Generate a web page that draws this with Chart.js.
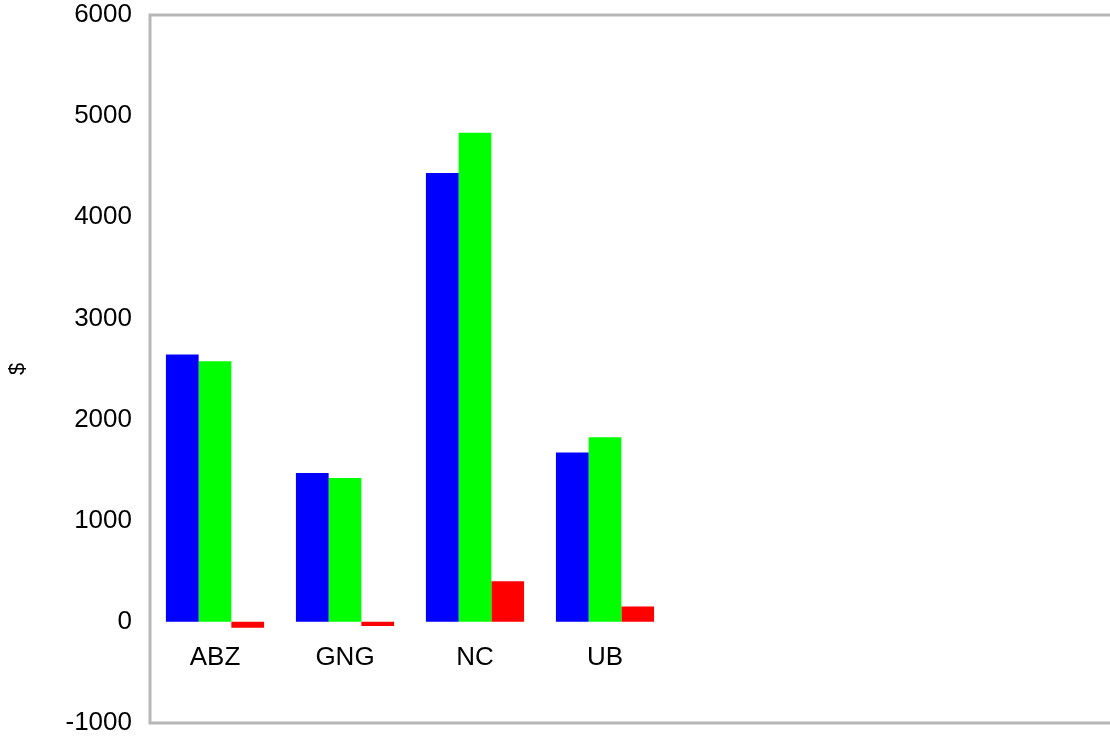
<!DOCTYPE html>
<html>
<head>
<meta charset="utf-8">
<script src="https://cdn.jsdelivr.net/npm/chart.js@4/dist/chart.umd.min.js"></script>
<style>
	html, body { margin: 0; padding: 0; background: #fff; overflow: hidden; }
	#wrap { width: 1110px; height: 740px; overflow: hidden; }
</style>
</head>
<body>
<div id="wrap"><canvas id="myChart" width="1200" height="740"></canvas></div>
<script>
const categories = ["ABZ", "GNG", "NC", "UB"];
const blueValues = [2643, 1472, 4439, 1675];
const greenValues = [2576, 1422, 4837, 1824];
const redValues = [-59, -40, 401, 153];
const yTicks = [-1000, 0, 1000, 2000, 3000, 4000, 5000, 6000];
const yTitle = "$";

// the plot runs past the right edge of the picture, so pad with empty slots
const emptySlots = 4;

const frameColor = "#b7b7b7";
const fontFamily = "'Liberation Sans', Arial, sans-serif";

const framePlugin = {
	id: "frame",
	afterDraw(chart) {
		const { ctx, chartArea } = chart;
		ctx.save();
		ctx.strokeStyle = frameColor;
		ctx.lineWidth = 3;
		ctx.strokeRect(chartArea.left, chartArea.top, chartArea.right - chartArea.left, chartArea.bottom - chartArea.top);
		ctx.restore();
	},
};

function initChart() {
	const ctx = document.getElementById("myChart");
	const labels = categories.concat(new Array(emptySlots).fill(""));

	return new Chart(ctx, {
		type: "bar",
		data: {
			labels: labels,
			datasets: [
				{ label: "blue", data: blueValues, backgroundColor: "#0000ff", borderWidth: 0 },
				{ label: "green", data: greenValues, backgroundColor: "#00ff00", borderWidth: 0 },
				{ label: "red", data: redValues, backgroundColor: "#ff0000", borderWidth: 0 },
			],
		},
		options: {
			responsive: false,
			animation: false,
			layout: { padding: { top: 15, bottom: 17, right: 10, left: 0 } },
			datasets: {
				bar: { barPercentage: 1, categoryPercentage: 0.755 },
			},
			plugins: {
				legend: { display: false },
				tooltip: { enabled: false },
			},
			scales: {
				x: {
					position: { y: 0 },
					afterFit: (scale) => {
						scale.height = 0;
						scale.paddingLeft = 0;
						scale.paddingRight = 0;
					},
					grid: { display: false, drawTicks: false },
					border: { display: false },
					ticks: {
						color: "#000",
						padding: 20,
						maxRotation: 0,
						autoSkip: false,
						font: { family: fontFamily, size: 26 },
					},
				},
				y: {
					min: -1000,
					max: 6000,
					afterBuildTicks: (scale) => {
						scale.ticks = yTicks.map((v) => ({ value: v }));
					},
					afterFit: (scale) => {
						scale.width = 150;
						scale.paddingTop = 0;
						scale.paddingBottom = 0;
					},
					grid: { display: false, drawTicks: false },
					border: { display: false },
					ticks: {
						color: "#000",
						padding: 18,
						callback: (value) => String(value),
						font: { family: fontFamily, size: 26 },
					},
					title: {
						display: true,
						text: yTitle,
						color: "#000",
						padding: { top: 5, bottom: 0 },
						font: { family: fontFamily, size: 22 },
					},
				},
			},
		},
		plugins: [framePlugin],
	});
}

initChart();
</script>
</body>
</html>
